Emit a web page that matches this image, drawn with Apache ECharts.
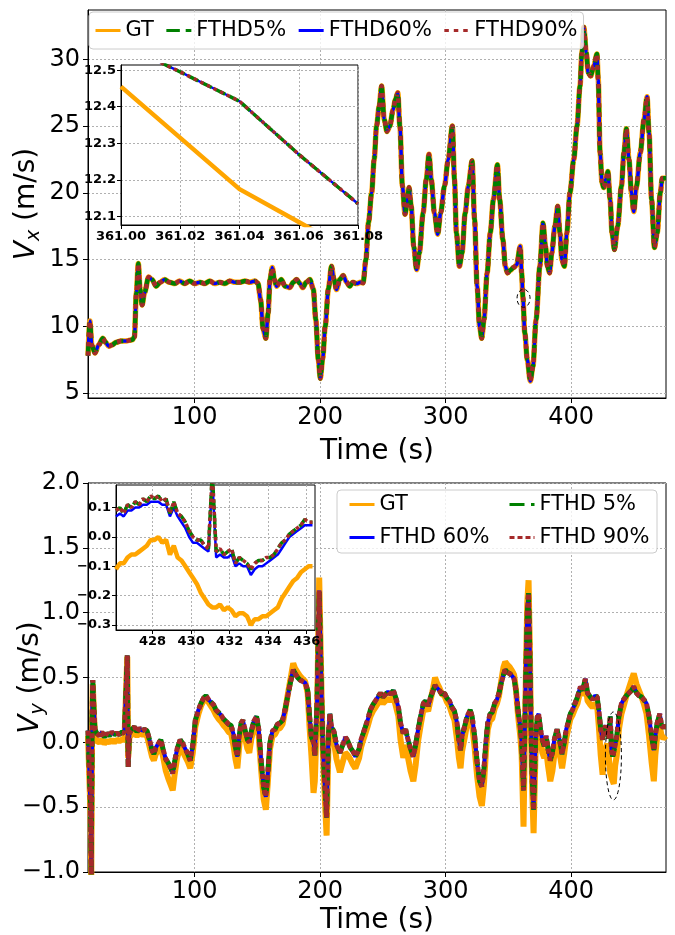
<!DOCTYPE html>
<html>
<head>
<meta charset="utf-8">
<title>Vx / Vy</title>
<script src="https://cdn.jsdelivr.net/npm/echarts@6.0.0/dist/echarts.min.js"></script>
<style>
    html, body { margin: 0; padding: 0; background: #fff; }
    #chart { width: 675px; height: 935px; }
</style>
</head>
<body>
<div id="chart"></div>
<script>
// ---- tick values ----
var timeTicks = [100, 200, 300, 400];
var vxTicks = [5, 10, 15, 20, 25, 30];
var vxZoomTicksX = [361.00, 361.02, 361.04, 361.06, 361.08];
var vxZoomTicksY = [12.1, 12.2, 12.3, 12.4, 12.5];
var vyZoomTicksX = [428, 430, 432, 434, 436];
var vyZoomTicksY = [-0.3, -0.2, -0.1, 0.0, 0.1];

// ---- Vx (top) ----
var vxTime = [
    15, 16.5, 18, 20.5, 23.5, 26.8, 29, 31.6, 34, 37.5,
    41, 45, 50.5, 52, 53.5, 55.1, 56.5, 58.1, 60, 63.3,
    66, 69.3, 72.5, 76, 80, 84, 88, 92, 96, 100,
    104, 108, 112, 116, 120, 124, 128, 132, 136, 140,
    144, 148, 150.5, 152.5, 154.5, 156.7, 158.5, 160, 161.8, 163.5,
    165.2, 169, 172, 175.8, 178.5, 181.2, 184, 186, 189, 191.8,
    194.5, 196.5, 198.5, 200.1, 202, 204, 206.5, 209, 211, 213,
    215.5, 218.3, 221, 223.6, 226, 229, 232, 234.2, 236.4, 238.5,
    241, 243, 244.9, 247, 248.9, 251, 253.2, 255.5, 258, 260,
    261.8, 263.5, 265.5, 267.6, 269, 270.8, 272.5, 274.5, 276.8, 279,
    282, 284.5, 286.7, 288.5, 291, 293.6, 296, 299, 302, 305.3,
    307, 308.5, 310.9, 313, 315.5, 318, 321, 323, 325, 327,
    328.7, 330.5, 333, 335.5, 338, 341.2, 343, 345.5, 347.5, 349.2,
    351.5, 354, 356.5, 359.4, 360.5, 361.5, 363, 365, 367.4, 369.5,
    372, 375, 377.5, 379.5, 381, 382.8, 384.5, 387, 389.2, 391,
    392.5, 394.5, 396.5, 399, 402, 404.6, 407, 408.5, 410, 412,
    413.5, 415.5, 418, 420.5, 421.5, 423, 424.5, 425.8, 427.5, 429.2,
    431, 432.5, 434.4, 437, 440, 442, 443.9, 446, 448, 449.8,
    452, 455, 458, 460.4, 462, 464, 466.3, 468.5, 471, 472.5,
    475.5
];
var vxGT = [
    7.8, 10.4, 8.6, 8.0, 8.6, 9.1, 8.8, 8.5, 8.6, 8.8,
    8.9, 8.9, 9.0, 9.2, 12.5, 14.7, 12.8, 11.6, 12.5, 13.7,
    13.5, 13.0, 13.3, 13.5, 13.3, 13.2, 13.4, 13.2, 13.4, 13.2,
    13.3, 13.2, 13.4, 13.2, 13.3, 13.2, 13.4, 13.3, 13.3, 13.4,
    13.3, 13.4, 13.2, 12.0, 9.8, 9.1, 11.0, 13.5, 14.4, 13.5,
    13.0, 13.5, 13.0, 12.9, 13.3, 13.5, 13.2, 12.9, 13.3, 13.5,
    12.8, 10.5, 7.5, 6.1, 7.6, 10.0, 12.8, 14.5, 13.5, 12.75,
    13.5, 13.8, 13.3, 13.0, 13.3, 13.2, 13.3, 13.25, 15.0, 17.8,
    20.0, 22.5, 25.0, 26.5, 28.0, 25.5, 24.6, 25.0, 26.2, 27.0,
    27.5, 25.0, 20.5, 18.4, 19.0, 20.4, 19.0, 16.0, 14.25, 15.5,
    18.5, 21.0, 22.9, 21.0, 18.5, 16.9, 18.5, 20.5, 22.5, 25.0,
    21.0, 17.0, 14.5, 15.5, 18.5, 20.5, 22.4, 18.0, 13.0, 10.0,
    9.1, 10.5, 14.0, 17.0, 19.5, 22.1, 19.5, 16.5, 14.5, 14.0,
    14.2, 14.4, 14.6, 16.0, 14.0, 12.1, 9.5, 7.5, 5.9, 7.0,
    10.5, 14.5, 17.75, 16.0, 14.5, 14.0, 15.5, 17.5, 19.0, 17.0,
    15.0, 14.5, 17.0, 20.0, 22.5, 25.0, 28.0, 30.5, 32.4, 30.5,
    29.0, 28.75, 29.5, 30.4, 28.5, 23.0, 20.8, 20.4, 21.0, 21.6,
    19.5, 17.0, 15.75, 17.5, 20.5, 23.0, 24.8, 22.5, 20.0, 18.6,
    20.5, 23.0, 25.5, 27.2, 24.5, 19.5, 15.9, 17.0, 20.0, 21.1,
    21.1
];
var vxFTHD = [
    7.8, 10.4, 8.6, 8.0, 8.6, 9.1, 8.8, 8.5, 8.6, 8.8,
    8.9, 8.9, 9.0, 9.2, 12.5, 14.7, 12.8, 11.6, 12.5, 13.7,
    13.5, 13.0, 13.3, 13.5, 13.3, 13.2, 13.4, 13.2, 13.4, 13.2,
    13.3, 13.2, 13.4, 13.2, 13.3, 13.2, 13.4, 13.3, 13.3, 13.4,
    13.3, 13.4, 13.2, 12.0, 9.8, 9.1, 11.0, 13.5, 14.4, 13.5,
    13.0, 13.5, 13.0, 12.9, 13.3, 13.5, 13.2, 12.9, 13.3, 13.5,
    12.8, 10.5, 7.5, 6.1, 7.6, 10.0, 12.8, 14.5, 13.5, 12.75,
    13.5, 13.8, 13.3, 13.0, 13.3, 13.2, 13.3, 13.25, 15.0, 17.8,
    20.0, 22.5, 25.0, 26.5, 28.0, 25.5, 24.6, 25.0, 26.2, 27.0,
    27.5, 25.0, 20.5, 18.4, 19.0, 20.4, 19.0, 16.0, 14.25, 15.5,
    18.5, 21.0, 22.9, 21.0, 18.5, 16.9, 18.5, 20.5, 22.5, 25.0,
    21.0, 17.0, 14.5, 15.5, 18.5, 20.5, 22.4, 18.0, 13.0, 10.0,
    9.1, 10.5, 14.0, 17.0, 19.5, 22.1, 19.5, 16.5, 14.5, 14.0,
    14.2, 14.4, 14.6, 16.0, 14.0, 12.2, 9.5, 7.5, 5.9, 7.0,
    10.5, 14.5, 17.75, 16.0, 14.5, 14.0, 15.5, 17.5, 19.0, 17.0,
    15.0, 14.5, 17.0, 20.0, 22.5, 25.0, 28.0, 30.5, 32.4, 30.5,
    29.0, 28.75, 29.5, 30.4, 28.5, 23.0, 20.8, 20.4, 21.0, 21.6,
    19.5, 17.0, 15.75, 17.5, 20.5, 23.0, 24.8, 22.5, 20.0, 18.6,
    20.5, 23.0, 25.5, 27.2, 24.5, 19.5, 15.9, 17.0, 20.0, 21.1,
    21.1
];
// inset around t = 361 s
var vxZoomTime = [361.00, 361.02, 361.04, 361.06, 361.08];
var vxZoomGT = [12.455, 12.315, 12.175, 12.085, 11.995];
var vxZoomFTHD = [12.573, 12.495, 12.415, 12.27, 12.135];

// ---- Vy (bottom) ----
var vyTime = [
    15, 16, 17, 17.6, 18.3, 18.8, 19.5, 20.5, 22, 24,
    26, 28, 30, 32, 34, 36, 38, 40, 42, 44,
    45.5, 46.3, 47, 48, 50, 52, 54, 56, 58, 60,
    62, 64, 66, 67.5, 69, 71, 73, 75, 77, 79,
    81, 82.5, 84, 86, 88.5, 90.5, 92.5, 94.5, 96.5, 98.5,
    100.5, 103, 105, 107, 109, 111, 113, 115, 117, 119,
    121, 123, 125, 127, 129, 131, 132.5, 134, 135.5, 137,
    138.5, 140, 142, 143.5, 145, 147, 149.3, 151, 153, 155,
    156.7, 158.2, 160, 162, 164, 166, 168, 170, 172, 174,
    176, 178.5, 180, 182, 184, 186, 188, 190, 191.5, 193,
    194.7, 195.7, 197.5, 199.2, 200.5, 202, 203.5, 205.1, 206.5, 207.7,
    209, 211, 213, 215.7, 218, 220, 222, 224, 226, 228,
    229.5, 231, 232.5, 234.3, 236, 238, 240, 242, 244, 246,
    248, 250, 252, 254, 256, 258.3, 260, 262.3, 264, 266.2,
    268, 270, 272, 274.2, 276, 278, 280, 282.2, 284, 286,
    288, 290, 291.5, 293, 295, 297, 299, 301, 303, 305,
    307, 309, 310.5, 311.8, 313, 315, 317, 319.5, 321, 323,
    325, 327, 328.8, 330.5, 332, 333.5, 335.4, 337, 339, 340.8,
    342.5, 344, 346, 347.4, 349, 351, 353, 354.5, 356, 357.5,
    359.4, 360.5, 362, 363, 364, 365, 366, 367, 368, 369,
    370, 371.5, 373, 374, 375.5, 377, 378.5, 380, 381.5, 383.3,
    385, 386.5, 388.7, 390, 391.5, 392.7, 394.5, 396, 397.5, 399.3,
    401, 403, 405, 407.3, 409, 411.3, 413, 415.2, 417, 419,
    420.6, 422, 423.5, 425, 426.1, 427.5, 428.6, 430, 431.1, 432,
    433.1, 433.9, 435, 436.3, 438, 440, 441.8, 444, 446, 448,
    449.8, 452, 454, 456, 457.8, 460, 462, 464, 465.8, 467,
    468.5, 470.6, 472, 473.3, 475.5
];
var vyFTHD = [
    0.09, 0.10, -0.50, -1.05, 0.20, 0.48, 0.30, 0.10, 0.07, 0.05,
    0.08, 0.04, 0.07, 0.05, 0.08, 0.06, 0.07, 0.06, 0.08, 0.07,
    0.08, 0.67, -0.19, 0.07, 0.10, 0.12, 0.08, 0.11, 0.09, 0.10,
    0.09, 0.02, -0.06, -0.09, -0.04, -0.01, 0.02, -0.06, -0.13, -0.16,
    -0.20, -0.24, -0.15, -0.05, 0.02, -0.01, -0.05, -0.09, -0.14, -0.02,
    0.17, 0.25, 0.30, 0.34, 0.36, 0.33, 0.31, 0.29, 0.25, 0.23,
    0.21, 0.18, 0.16, 0.14, 0.13, 0.06, -0.04, -0.11, 0.05, 0.15,
    0.17, 0.10, 0.02, 0.00, 0.08, 0.16, 0.20, 0.10, -0.15, -0.35,
    -0.42, -0.25, 0.00, 0.09, 0.10, 0.14, 0.15, 0.17, 0.25, 0.35,
    0.45, 0.56, 0.53, 0.50, 0.48, 0.47, 0.46, 0.40, 0.20, 0.04,
    0.00, -0.10, 0.30, 1.17, 0.60, 0.00, -0.30, -0.58, 0.05, 0.22,
    0.12, 0.08, -0.02, -0.08, -0.02, 0.04, 0.01, -0.04, -0.07, -0.11,
    -0.12, -0.05, 0.02, 0.07, 0.12, 0.18, 0.25, 0.29, 0.32, 0.35,
    0.38, 0.35, 0.37, 0.39, 0.37, 0.40, 0.35, 0.27, 0.15, 0.07,
    0.10, 0.02, -0.05, -0.11, -0.02, 0.10, 0.20, 0.30, 0.32, 0.28,
    0.35, 0.40, 0.44, 0.42, 0.40, 0.37, 0.38, 0.34, 0.32, 0.27,
    0.24, 0.15, 0.02, -0.06, 0.05, 0.12, 0.20, 0.25, 0.20, 0.05,
    -0.15, -0.30, -0.34, -0.20, 0.00, 0.15, 0.22, 0.23, 0.30, 0.33,
    0.38, 0.45, 0.52, 0.56, 0.54, 0.53, 0.51, 0.49, 0.40, 0.25,
    0.12, 0.00, -0.37, 0.10, 0.60, 1.00, 1.15, 0.70, 0.10, -0.30,
    -0.52, 0.00, 0.20, 0.22, 0.10, 0.02, -0.03, 0.05, -0.05, -0.14,
    -0.08, 0.02, 0.10, 0.05, -0.02, -0.09, 0.00, 0.10, 0.15, 0.22,
    0.25, 0.30, 0.35, 0.43, 0.40, 0.49, 0.38, 0.35, 0.33, 0.36,
    0.35, 0.25, 0.10, 0.02, 0.09, 0.13, 0.12, 0.03, 0.20, -0.05,
    -0.11, -0.10, -0.02, 0.05, 0.20, 0.30, 0.33, 0.36, 0.38, 0.40,
    0.43, 0.38, 0.36, 0.35, 0.33, 0.30, 0.20, 0.05, -0.06, 0.05,
    0.15, 0.22, 0.12, 0.12, 0.12
];
var vyGT = [
    0.05, 0.06, -0.55, -1.10, 0.15, 0.45, 0.28, 0.05, 0.01, 0.00,
    0.02, -0.01, 0.01, 0.00, 0.02, 0.00, 0.02, 0.01, 0.02, 0.02,
    0.03, 0.66, -0.12, 0.04, 0.06, 0.07, 0.05, 0.07, 0.06, 0.06,
    0.05, -0.03, -0.11, -0.14, -0.09, -0.06, -0.03, -0.12, -0.22, -0.28,
    -0.33, -0.37, -0.25, -0.12, -0.04, -0.07, -0.11, -0.15, -0.20, -0.08,
    0.12, 0.22, 0.28, 0.32, 0.35, 0.31, 0.28, 0.25, 0.21, 0.18,
    0.16, 0.13, 0.11, 0.08, 0.07, -0.03, -0.13, -0.20, -0.03, 0.10,
    0.12, 0.04, -0.05, -0.08, 0.02, 0.11, 0.16, 0.05, -0.22, -0.44,
    -0.52, -0.32, -0.05, 0.05, 0.06, 0.10, 0.11, 0.14, 0.24, 0.36,
    0.47, 0.61, 0.57, 0.54, 0.51, 0.49, 0.47, 0.38, 0.12, -0.10,
    -0.39, -0.30, 0.22, 1.27, 0.65, -0.05, -0.40, -0.72, -0.05, 0.16,
    0.05, 0.00, -0.13, -0.23, -0.15, -0.08, -0.10, -0.13, -0.17, -0.20,
    -0.21, -0.12, -0.04, 0.02, 0.07, 0.13, 0.20, 0.24, 0.27, 0.30,
    0.33, 0.30, 0.32, 0.34, 0.32, 0.35, 0.29, 0.20, 0.02, -0.12,
    -0.02, -0.12, -0.22, -0.30, -0.18, 0.01, 0.13, 0.25, 0.27, 0.24,
    0.33, 0.42, 0.50, 0.46, 0.42, 0.37, 0.36, 0.31, 0.28, 0.22,
    0.17, 0.02, -0.12, -0.20, -0.07, 0.03, 0.14, 0.21, 0.14, -0.04,
    -0.26, -0.42, -0.49, -0.32, -0.08, 0.10, 0.17, 0.18, 0.26, 0.30,
    0.36, 0.46, 0.58, 0.62, 0.60, 0.58, 0.55, 0.52, 0.40, 0.22,
    0.05, -0.10, -0.65, 0.00, 0.60, 1.08, 1.25, 0.75, 0.05, -0.40,
    -0.70, -0.10, 0.12, 0.15, 0.02, -0.08, -0.12, -0.05, -0.18, -0.30,
    -0.22, -0.10, 0.00, -0.05, -0.13, -0.20, -0.08, 0.03, 0.10, 0.18,
    0.21, 0.26, 0.30, 0.40, 0.36, 0.46, 0.32, 0.29, 0.27, 0.30,
    0.29, 0.12, -0.10, -0.25, -0.11, -0.04, -0.01, -0.12, -0.24, -0.25,
    -0.30, -0.32, -0.18, -0.10, 0.10, 0.22, 0.28, 0.36, 0.42, 0.48,
    0.53, 0.45, 0.40, 0.35, 0.30, 0.22, 0.05, -0.15, -0.30, -0.10,
    0.05, 0.12, 0.05, 0.03, 0.05
];
// inset 426 - 436 s
var vyZoomTime = [
    426.1, 426.3, 426.5, 426.7, 426.9, 427.1, 427.3, 427.5, 427.7, 427.9,
    428.1, 428.3, 428.5, 428.7, 428.9, 429.1, 429.3, 429.5, 429.7, 429.9,
    430.1, 430.3, 430.5, 430.7, 430.9, 431.1, 431.3, 431.5, 431.7, 431.9,
    432.1, 432.3, 432.5, 432.7, 432.9, 433.1, 433.3, 433.5, 433.7, 433.9,
    434.1, 434.3, 434.5, 434.7, 434.9, 435.1, 435.3, 435.5, 435.7, 435.9,
    436.1, 436.3
];
var vyZoomFTHD = [
    0.09, 0.10, 0.08, 0.11, 0.10, 0.12, 0.11, 0.13, 0.12, 0.14,
    0.13, 0.14, 0.12, 0.13, 0.08, 0.12, 0.08, 0.07, 0.05, 0.02,
    0.00, -0.01, -0.01, -0.03, -0.04, 0.22, -0.05, -0.04, -0.06, -0.05,
    -0.04, -0.09, -0.07, -0.08, -0.09, -0.11, -0.09, -0.08, -0.08, -0.07,
    -0.07, -0.06, -0.04, -0.02, -0.01, 0.01, 0.02, 0.03, 0.04, 0.06,
    0.05, 0.05
];
var vyZoomFTHD60 = [
    0.07, 0.08, 0.07, 0.09, 0.09, 0.10, 0.10, 0.11, 0.11, 0.12,
    0.12, 0.12, 0.11, 0.11, 0.07, 0.10, 0.07, 0.05, 0.03, 0.00,
    -0.02, -0.02, -0.03, -0.04, -0.05, 0.20, -0.07, -0.06, -0.07, -0.07,
    -0.06, -0.10, -0.09, -0.10, -0.10, -0.13, -0.11, -0.10, -0.10, -0.09,
    -0.08, -0.07, -0.06, -0.04, -0.02, 0.00, 0.01, 0.02, 0.03, 0.04,
    0.04, 0.04
];
var vyZoomGT = [
    -0.11, -0.09, -0.09, -0.07, -0.06, -0.06, -0.05, -0.04, -0.03, -0.01,
    -0.01, 0.00, -0.02, -0.01, -0.06, -0.03, -0.07, -0.08, -0.10, -0.12,
    -0.14, -0.16, -0.19, -0.21, -0.23, -0.24, -0.24, -0.23, -0.25, -0.24,
    -0.25, -0.27, -0.26, -0.26, -0.27, -0.30, -0.28, -0.28, -0.27, -0.27,
    -0.26, -0.25, -0.24, -0.21, -0.19, -0.17, -0.15, -0.14, -0.12, -0.11,
    -0.10, -0.10
];

var FONT = 'DejaVu Sans';
var C_GT = '#ffa500', C_5 = '#008000', C_60 = '#0000ff', C_90 = '#a52a2a';

function pairs(xs, ys) {
    return xs.map(function (x, i) { return [x, ys[i]]; });
}

function fmt(v, digits) {
    if (Math.abs(v) < 1e-9) v = 0;
    return v.toFixed(digits).replace('-', '\u2212');
}

var gridLine = { show: true, lineStyle: { color: '#b0b0b0', width: 1, type: [2, 2] } };

function mainAxis(idx, min, max, ticks, digits, name, nameGap, interval) {
    var ax = {
        type: 'value', gridIndex: idx, min: min, max: max,
        name: name, nameLocation: 'middle', nameGap: nameGap, nameMoveOverlap: false,
        nameTextStyle: { fontFamily: FONT, fontSize: 28, color: '#000' },
        axisLine: { show: true, onZero: false, lineStyle: { color: '#000', width: 1 } },
        axisTick: { show: true, length: 5, lineStyle: { color: '#000' } },
        axisLabel: { fontFamily: FONT, fontSize: 24, color: '#000', margin: 8,
            formatter: function (v) { return fmt(v, digits); } },
        splitLine: gridLine
    };
    if (interval) {
        ax.interval = interval;
    } else {
        ax.axisTick.customValues = ticks;
        ax.axisLabel.customValues = ticks;
    }
    return ax;
}

function insetAxis(idx, min, max, ticks, digits) {
    return {
        type: 'value', gridIndex: idx, min: min, max: max, zlevel: 1,
        axisLine: { show: true, onZero: false, lineStyle: { color: '#000', width: 1 } },
        axisTick: { show: true, length: 4, customValues: ticks, lineStyle: { color: '#000' } },
        axisLabel: { customValues: ticks, fontFamily: FONT, fontWeight: 'bold', fontSize: 13,
            color: '#000', margin: 5, formatter: function (v) { return fmt(v, digits); } },
        splitLine: gridLine
    };
}

function yName(sub) {
    return '{i|V}{s|' + sub + '}{t| (m/s)}';
}
var yNameRich = {
    i: { fontFamily: FONT, fontStyle: 'italic', fontSize: 28, lineHeight: 34 },
    s: { fontFamily: FONT, fontStyle: 'italic', fontSize: 19, lineHeight: 20, verticalAlign: 'bottom' },
    t: { fontFamily: FONT, fontSize: 28, lineHeight: 34 }
};

function line(name, idx, data, color, width, dash, z, zl, smooth) {
    return {
        name: name, type: 'line', xAxisIndex: idx, yAxisIndex: idx, data: data,
        symbol: 'none', smooth: smooth || false, smoothMonotone: 'x', clip: true,
        zlevel: zl || 0, z: z, silent: true,
        lineStyle: { color: color, width: width, type: dash || 'solid' },
        itemStyle: { color: color }
    };
}

// the four curves of one panel: GT, then 60 %, 5 %, 90 % on top
function panel(names, idx, t, gt, f5, f60, f90, w, zl, smooth, dotGap) {
    var z = zl ? 3 : 2;
    return [
        line(names[0], idx, pairs(t, gt), C_GT, w + 1, 'solid', z, zl, smooth),
        line(names[2], idx, pairs(t, f60), C_60, w - 1, 'solid', z, zl, smooth),
        line(names[1], idx, pairs(t, f5), C_5, w, [w * 3, w * 1.3], z, zl, smooth),
        line(names[3], idx, pairs(t, f90), C_90, w, [w, w * (dotGap || 1.1)], z, zl, smooth)
    ];
}

var myChart = echarts.init(document.getElementById('chart'), null, { renderer: 'canvas' });

var topX = mainAxis(0, 15, 475.5, timeTicks, 0, 'Time (s)', 40);
var topY = mainAxis(0, 4.63, 33.7, vxTicks, 0, yName('x'), 44);
topY.nameTextStyle.rich = yNameRich;
var botX = mainAxis(2, 15, 475.5, timeTicks, 0, 'Time (s)', 35);
var botY = mainAxis(2, -1, 2, null, 1, yName('y'), 40, 0.5);
botY.nameTextStyle.rich = yNameRich;

var legendText = { fontFamily: FONT, fontSize: 21, color: '#000', lineHeight: 25 };
var legendLine = { width: 3 };
var topNames = ['GT', 'FTHD5%', 'FTHD60%', 'FTHD90%'];
var botNames = ['GT', 'FTHD 5%', 'FTHD 60%', 'FTHD 90%'];

var option = {
    animation: false,
    backgroundColor: '#fff',
    grid: [
        { left: 88, top: 10, width: 578, height: 388, show: true, borderColor: '#000', borderWidth: 1,
          backgroundColor: 'transparent', outerBoundsMode: 'none' },
        { left: 121, top: 65, width: 237, height: 160, show: true, borderColor: '#000', borderWidth: 1,
          backgroundColor: '#fff', zlevel: 1, outerBoundsMode: 'none' },
        { left: 88, top: 483, width: 578, height: 389, show: true, borderColor: '#000', borderWidth: 1,
          backgroundColor: 'transparent', outerBoundsMode: 'none' },
        { left: 116, top: 485, width: 199, height: 145, show: true, borderColor: '#000', borderWidth: 1,
          backgroundColor: '#fff', zlevel: 1, outerBoundsMode: 'none' }
    ],
    xAxis: [
        topX,
        insetAxis(1, 361.0, 361.08, vxZoomTicksX, 2),
        botX,
        insetAxis(3, 426.1, 436.43, vyZoomTicksX, 0)
    ],
    yAxis: [
        topY,
        insetAxis(1, 12.077, 12.514, vxZoomTicksY, 1),
        botY,
        insetAxis(3, -0.317, 0.177, vyZoomTicksY, 1)
    ],
    legend: [
        {
            data: topNames,
            orient: 'horizontal', left: 89, top: 12, padding: [6, 6, 6, 5],
            itemGap: 11, itemWidth: 25, itemHeight: 14, selectedMode: false,
            borderColor: '#cccccc', borderWidth: 1, borderRadius: 4,
            backgroundColor: 'rgba(255,255,255,0.8)',
            itemStyle: { opacity: 0 }, lineStyle: legendLine, textStyle: legendText
        },
        {
            data: ['GT', 'FTHD 60%'],
            orient: 'vertical', left: 348, top: 492, padding: 0,
            itemGap: 8, itemWidth: 25, itemHeight: 14, selectedMode: false,
            itemStyle: { opacity: 0 }, lineStyle: legendLine, textStyle: legendText
        },
        {
            data: ['FTHD 5%', 'FTHD 90%'],
            orient: 'vertical', left: 508, top: 492, padding: 0,
            itemGap: 8, itemWidth: 25, itemHeight: 14, selectedMode: false,
            itemStyle: { opacity: 0 }, lineStyle: legendLine, textStyle: legendText
        }
    ],
    series: [].concat(
        panel(topNames, 0, vxTime, vxGT, vxFTHD, vxFTHD, vxFTHD, 4.5, 0, 0.3),
        panel(topNames, 1, vxZoomTime, vxZoomGT, vxZoomFTHD, vxZoomFTHD, vxZoomFTHD, 3.5, 1),
        panel(botNames, 2, vyTime, vyGT, vyFTHD, vyFTHD, vyFTHD, 5, 0, false, 0.6),
        panel(botNames, 3, vyZoomTime, vyZoomGT, vyZoomFTHD, vyZoomFTHD60, vyZoomFTHD, 3.5, 1, false, 0.8)
    )
};

myChart.setOption(option);

// dashed markers around the zoomed regions, plus the bottom legend frame
var p1 = myChart.convertToPixel({ xAxisIndex: 0, yAxisIndex: 0 }, [362, 12.1]);
var p2 = myChart.convertToPixel({ xAxisIndex: 2, yAxisIndex: 2 }, [433.6, -0.105]);
var dashStyle = { fill: 'none', stroke: '#000', lineWidth: 1, lineDash: [4, 3] };

myChart.setOption({
    graphic: [
        { type: 'rect', id: 'legendBox', z: 3, silent: true,
          shape: { x: 337, y: 490, width: 320, height: 63, r: 4 },
          style: { fill: 'rgba(255,255,255,0.8)', stroke: '#cccccc', lineWidth: 1 } },
        { type: 'ellipse', id: 'mark1', z: 3, silent: true,
          shape: { cx: p1[0], cy: p1[1], rx: 6.5, ry: 9 }, style: dashStyle },
        { type: 'ellipse', id: 'mark2', z: 3, silent: true,
          shape: { cx: p2[0], cy: p2[1], rx: 8, ry: 44 }, style: dashStyle }
    ]
});
</script>
</body>
</html>
